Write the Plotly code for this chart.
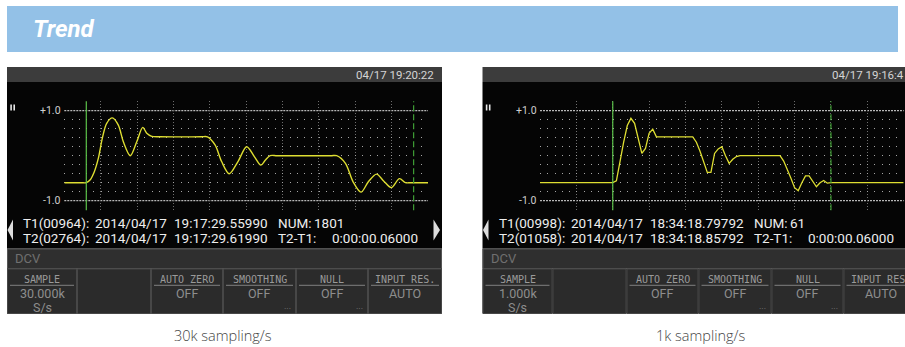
import plotly.graph_objects as go

# ---------------- data ----------------
# 30k S/s trend (smooth), time in ms relative to cursor T1, value in V
left_time_ms = [-4.03, -1.0, 0.0, 0.68, 1.47, 2.2, 2.94, 3.74, 4.77, 5.87, 6.79, 8.07, 9.25, 10.35,
                11.08, 12.0, 13.5, 21.0, 22.2, 23.6, 24.8, 26.2, 27.8, 29.4, 30.8, 32.0, 32.8,
                33.7, 35.0, 44.8, 45.9, 47.5, 48.9, 50.35, 51.7, 53.2, 54.5, 55.9, 57.4, 58.5,
                59.5, 62.7]
left_volts = [-0.6, -0.6, -0.6, -0.54, -0.355, -0.06, 0.39, 0.72, 0.84, 0.68, 0.31, 0.0, 0.31, 0.63,
              0.5, 0.43, 0.42, 0.42, 0.42, 0.24, -0.13, -0.40, -0.13, 0.2, -0.02, -0.21, -0.1,
              0.0, 0.0, 0.0, 0.0, -0.17, -0.58, -0.81, -0.58, -0.41, -0.56, -0.71, -0.51, -0.6,
              -0.6, -0.6]

# 1k S/s trend (one sample per ms)
right_time_ms = [-20, 0, 1, 2, 3, 4, 5, 6, 7, 8, 9, 10, 11, 12, 22, 23, 24, 25, 26, 27, 28, 29, 30,
                 31, 32, 33, 34, 35, 46, 47, 48, 49, 50, 51, 52, 53, 54, 55, 56, 57, 58, 59, 60, 80]
right_volts = [-0.6, -0.6, -0.56, -0.1, 0.3, 0.67, 0.83, 0.72, 0.38, 0.05, 0.16, 0.5, 0.59, 0.42,
               0.42, 0.3, 0.1, -0.15, -0.37, -0.37, 0.05, 0.15, 0.2, 0.0, -0.17, -0.08, -0.02, 0.0,
               0.0, -0.12, -0.3, -0.5, -0.71, -0.78, -0.6, -0.45, -0.45, -0.57, -0.69, -0.6, -0.55,
               -0.61, -0.6, -0.6]

cursor_ms = [0, 60]          # T1, T2
scale_vals = [1.0, -1.0]
scale_text = ["+1.0", "-1.0"]

header_texts = ["04/17 19:20:22", "04/17 19:16:4"]
t1_rows = [["T1(00964):", "2014/04/17", "19:17:29.55990", "NUM:", "1801"],
           ["T1(00998):", "2014/04/17", "18:34:18.79792", "NUM:", "61"]]
t2_rows = [["T2(02764):", "2014/04/17", "19:17:29.61990", "T2-T1:", "0:00:00.06000"],
           ["T2(01058):", "2014/04/17", "18:34:18.85792", "T2-T1:", "0:00:00.06000"]]
function_name = "DCV"
button_labels = ["SAMPLE", "", "AUTO ZERO", "SMOOTHING", "NULL", "INPUT RES."]
button_values = [["30.000k", "", "OFF", "OFF", "OFF", "AUTO"],
                 ["1.000k", "", "OFF", "OFF", "OFF", "AUTO"]]
button_units = ["S/s", "", "", "", "", ""]
button_more = [False, False, False, True, True, False]
captions = ["30k sampling/s", "1k sampling/s"]
title_text = "Trend"

# ---------------- layout helpers ----------------
W, H = 905, 347
def fx(x): return x / W
def fy(y): return 1 - y / H

shapes = []
annotations = []

def rect(x0, y0, x1, y1, fill, line=None, lw=0, layer="below"):
    shapes.append(dict(type="rect", xref="paper", yref="paper",
                       x0=fx(x0), x1=fx(x1), y0=fy(y1), y1=fy(y0),
                       fillcolor=fill, line=dict(color=line or fill, width=lw), layer=layer))

def hline(x0, x1, y, color, w=1, dash="solid", layer="below"):
    shapes.append(dict(type="line", xref="paper", yref="paper", x0=fx(x0), x1=fx(x1),
                       y0=fy(y), y1=fy(y), line=dict(color=color, width=w, dash=dash), layer=layer))

def text(x, y, s, size, color, family, xanchor="left", yanchor="middle", weight=None):
    f = dict(size=size, color=color, family=family)
    if weight is not None:
        f["weight"] = weight
    annotations.append(dict(xref="paper", yref="paper", x=fx(x), y=fy(y), text=s,
                            showarrow=False, xanchor=xanchor, yanchor=yanchor, font=f))

def tri(points, color):
    path = "M " + " L ".join(f"{fx(px)},{fy(py)}" for px, py in points) + " Z"
    shapes.append(dict(type="path", xref="paper", yref="paper", path=path,
                       fillcolor=color, line=dict(color=color, width=0), layer="above"))

SCREEN_FONT = "Roboto, DejaVu Sans, sans-serif"
MONO_FONT = "DejaVu Sans Mono, Liberation Mono, monospace"

# banner
rect(7, 6, 898, 52, "#93c1e7")
text(31, 28.5, f"<i><b>{title_text}</b></i>", 24, "white", "Roboto, Arial, sans-serif")

def screen(i, dx):
    L, R = 7 + dx, 442 + dx
    # header bar
    rect(L, 67, R, 82, "#3c3c3c")
    text(354 + dx, 74.8, header_texts[i], 11.5, "#d4d4d4", SCREEN_FONT)
    # black body
    rect(L, 82, R, 248.5, "#050505")
    # pause symbol
    rect(10.3 + dx, 104.5, 11.9 + dx, 110.5, "#e8e8e8")
    rect(13.4 + dx, 104.5, 15.0 + dx, 110.5, "#e8e8e8")
    # scale labels
    for v, s in zip(scale_vals, scale_text):
        yy = 155.7 - v * 45
        text(63.5 + dx, yy, s, 10.5, "#cfcfcf", SCREEN_FONT, xanchor="right")
    # cursor readouts
    cols = [21, 93, 172, 276, 312]
    cols2 = [21, 93, 172, 276, 330]
    for c, s in zip(cols, t1_rows[i]):
        text(c + dx, 223, s, 13.5, "#eeeeee", SCREEN_FONT)
    for c, s in zip(cols2, t2_rows[i]):
        text(c + dx, 237.5, s, 13.5, "#eeeeee", SCREEN_FONT)
    tri([(7.5 + dx, 230), (13 + dx, 219.5), (13 + dx, 240.5)], "#dddddd")
    tri([(440 + dx, 230), (433.5 + dx, 219.5), (433.5 + dx, 240.5)], "#dddddd")
    # function bar
    rect(L, 248.5, R, 313.5, "#1e1e1e")
    shapes.append(dict(type="rect", xref="paper", yref="paper", x0=fx(L + 0.5), x1=fx(R - 0.5),
                       y0=fy(268.5), y1=fy(249), fillcolor="#2f2f2f",
                       line=dict(color="#555555", width=1), layer="below"))
    text(13 + dx, 258.5, function_name, 13, "#707070", SCREEN_FONT)
    # buttons
    edges = [7, 77, 151, 223, 296, 368, 442]
    for k in range(6):
        x0, x1 = edges[k] + dx, edges[k + 1] + dx
        rect(x0 + 0.5, 269, x1 - 0.5, 313.5, "#2b2b2b", line="#474747", lw=1)
        cx = (x0 + x1) / 2
        if button_labels[k]:
            text(cx, 279, button_labels[k], 10, "#9a9a9a", MONO_FONT, xanchor="center")
            hline(x0 + 3, x1 - 3, 285.3, "#808080", 1)
        if button_values[i][k]:
            text(cx, 293.5, button_values[i][k], 12.5, "#8e8e8e", SCREEN_FONT, xanchor="center")
        if button_units[k]:
            text(cx, 307, button_units[k], 12.5, "#8e8e8e", SCREEN_FONT, xanchor="center")
        if button_more[k]:
            text(x1 - 9, 305.5, "...", 9, "#7a7a7a", SCREEN_FONT, xanchor="center")
    # caption
    text(223 + dx + (2 if i else 0), 335, captions[i], 14.5, "#444444",
         "Open Sans, Lato, sans-serif", xanchor="center", weight=300)

screen(0, 0)
screen(1, 475.5)

# plot-area reference lines and cursors (data-referenced)
for xa, ya in [("x", "y"), ("x2", "y2")]:
    for v in scale_vals:
        shapes.append(dict(type="line", xref=xa + " domain", yref=ya,
                           x0=0, x1=1, y0=v, y1=v,
                           line=dict(color="#b8b8b8", width=1.3, dash="2px,1px"), layer="below"))
    shapes.append(dict(type="line", xref=xa, yref=ya + " domain",
                       x0=cursor_ms[0], x1=cursor_ms[0], y0=0, y1=1,
                       line=dict(color="#5cc24a", width=1.2), layer="above"))
    shapes.append(dict(type="line", xref=xa, yref=ya + " domain",
                       x0=cursor_ms[1], x1=cursor_ms[1], y0=0, y1=1,
                       line=dict(color="#3f9e35", width=1.2, dash="6px,3px"), layer="above"))

fig = go.Figure()

TRACE_COLOR = "#dede32"
fig.add_trace(go.Scatter(x=left_time_ms, y=left_volts, mode="lines", xaxis="x", yaxis="y",
                         line=dict(color=TRACE_COLOR, width=1.4, shape="spline", smoothing=0.9),
                         hoverinfo="skip"))
fig.add_trace(go.Scatter(x=right_time_ms, y=right_volts, mode="lines", xaxis="x2", yaxis="y2",
                         line=dict(color=TRACE_COLOR, width=1.3), hoverinfo="skip"))

YR = [-1.21, 1.21]
ydom = [fy(155.7 + 1.21 * 45), fy(155.7 - 1.21 * 45)]

def xaxis(domain_px, rng, dtick):
    return dict(domain=[fx(domain_px[0]), fx(domain_px[1])], range=rng, tick0=rng[0] + 0.0001,
                dtick=dtick, showgrid=True, gridcolor="#6e6e6e", griddash="1px,2px",
                gridwidth=1, showticklabels=False, ticks="", zeroline=False, showline=False,
                fixedrange=True)

def yaxis(anchor, xpx_div):
    period = xpx_div / 5
    return dict(domain=ydom, range=YR, anchor=anchor, tickmode="array",
                tickvals=[-1.2, -0.8, -0.6, -0.4, -0.2, 0, 0.2, 0.4, 0.6, 0.8, 1.2],
                showgrid=True, gridcolor="#a6a6a6", gridwidth=1,
                griddash=f"1px,{period - 1:.2f}px", showticklabels=False, ticks="",
                zeroline=False, showline=False, fixedrange=True)

L_PX = [64.3, 428.0]
R_PX = [540.0, 903.7]
fig.update_layout(
    width=W, height=H, margin=dict(l=0, r=0, t=0, b=0),
    paper_bgcolor="white", plot_bgcolor="rgba(0,0,0,0)", showlegend=False,
    xaxis=xaxis(L_PX, [-4.0335, 62.6335], 66.667 / 10),
    yaxis=yaxis("x", (L_PX[1] - L_PX[0]) / 10),
    xaxis2=xaxis(R_PX, [-20.005, 80.005], 10),
    yaxis2=yaxis("x2", (R_PX[1] - R_PX[0]) / 10),
    shapes=shapes, annotations=annotations,
)
fig.write_html("out.html")
